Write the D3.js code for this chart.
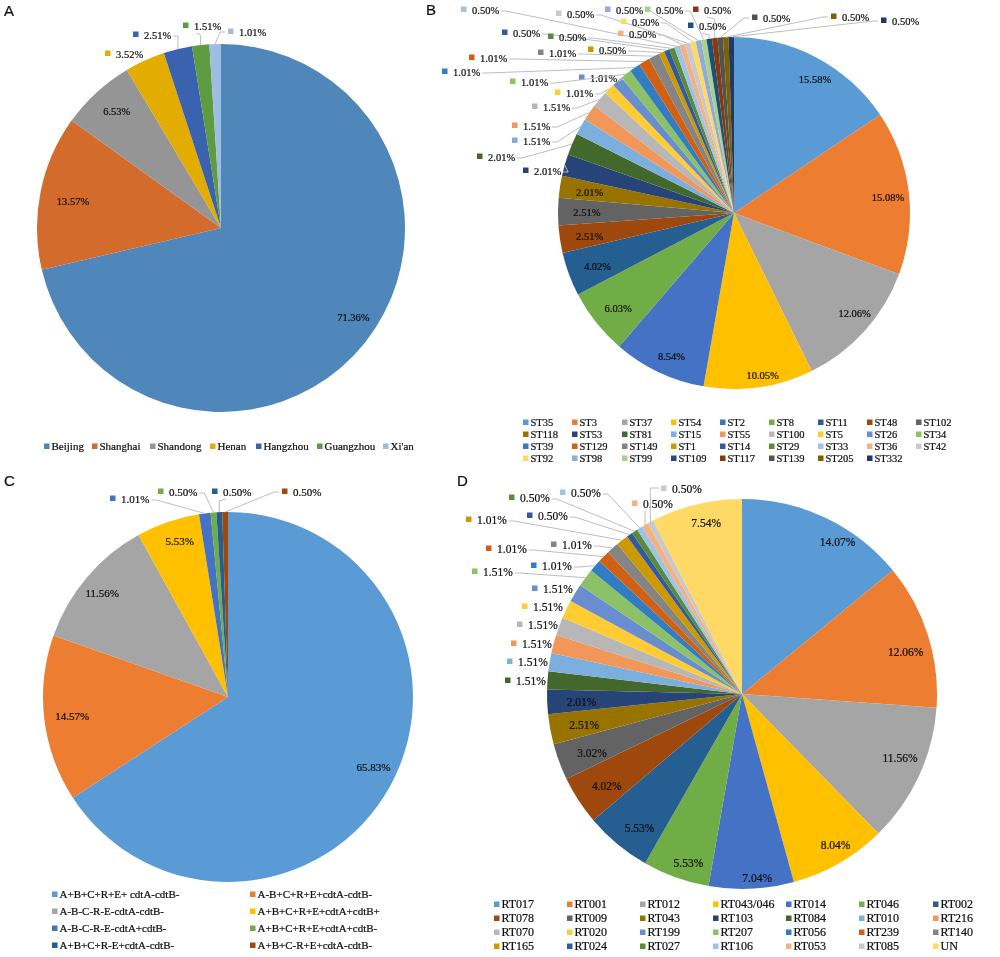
<!DOCTYPE html>
<html><head><meta charset="utf-8">
<script src="https://cdn.jsdelivr.net/npm/d3@7/dist/d3.min.js"></script>
<style>html,body{margin:0;padding:0;background:#fff}svg{display:block;filter:blur(0.35px)}text{font-family:"Liberation Serif",serif;fill:#111;stroke:#111;stroke-width:.22px}</style>
</head><body>
<svg id="c" width="1000" height="957"></svg>
<script>
// ---- data ----
const citiesA = ["Beijing","Shanghai","Shandong","Henan","Hangzhou","Guangzhou","Xi'an"];
const valuesA = [71.36,13.57,6.53,3.52,2.51,1.51,1.01];
const typesB = ["ST35","ST3","ST37","ST54","ST2","ST8","ST11","ST48","ST102","ST118","ST53","ST81","ST15","ST55","ST100","ST5","ST26","ST34","ST39","ST129","ST149","ST1","ST14","ST29","ST33","ST36","ST42","ST92","ST98","ST99","ST109","ST117","ST139","ST205","ST332"];
const valuesB = [15.58,15.08,12.06,10.05,8.54,6.03,4.02,2.51,2.51,2.01,2.01,2.01,1.51,1.51,1.51,1.01,1.01,1.01,1.01,1.01,1.01,0.50,0.50,0.50,0.50,0.50,0.50,0.50,0.50,0.50,0.50,0.50,0.50,0.50,0.50];
const profilesC = ["A+B+C+R+E+ cdtA-cdtB-","A-B+C+R+E+cdtA-cdtB-","A-B-C-R-E-cdtA-cdtB-","A+B+C+R+E+cdtA+cdtB+","A-B-C-R-E-cdtA+cdtB-","A+B+C+R+E+cdtA+cdtB-","A+B+C+R-E+cdtA-cdtB-","A+B+C-R+E+cdtA-cdtB-"];
const valuesC = [65.83,14.57,11.56,5.53,1.01,0.50,0.50,0.50];
const ribotypesD = ["RT017","RT001","RT012","RT043/046","RT014","RT046","RT002","RT078","RT009","RT043","RT103","RT084","RT010","RT216","RT070","RT020","RT199","RT207","RT056","RT239","RT140","RT165","RT024","RT027","RT106","RT053","RT085","UN"];
const valuesD = [14.07,12.06,11.56,8.04,7.04,5.53,5.53,4.02,3.02,2.51,2.01,1.51,1.51,1.51,1.51,1.51,1.51,1.51,1.01,1.01,1.01,1.01,0.50,0.50,0.50,0.50,0.50,7.54];

// ---- styles and layout ----
const palette = ["#5B9BD5","#ED7D31","#A5A5A5","#FFC000","#4472C4","#70AD47","#255E91","#9E480E","#636363","#997300","#264478","#43682B","#7CAFDD","#F1975A","#B7B7B7","#FFCD33","#698ED0","#8CC168","#327DC2","#D26012","#848484","#CC9A00","#335AA1","#5A8B39","#9DC3E6","#F4B183","#C9C9C9","#FFD966","#8FAADC","#A9D18E","#1F4E79","#843C0C","#525252","#7F6000","#203864"];
const paletteA = ["#4F87BA","#D36B2D","#959595","#E3AC00","#3B62AE","#5F9B41","#9DBDE3"];
// outside labels: slice index -> text start, text middle y, leader type
const outA = {3:[116,54,""],4:[144,35,"r"],5:[194,26,"u"],6:[239,32,"l"]};
const outB = {10:[534,171,"r"],11:[488,157,"r"],12:[523,141,"r"],13:[523,126,"r"],14:[543,107,"r"],15:[566,93,"r"],16:[590,78,"r"],17:[521,82,"r"],18:[453,72,"r"],19:[480,58,"r"],20:[549,53,"r"],21:[599,50,"r"],22:[513,33,"r"],23:[559,37,"r"],24:[472,10,"r"],25:[629,34,"r"],26:[567,14,"r"],27:[632,22,"r"],28:[616,10,"r"],29:[656,10,"r"],30:[699,26,"u"],31:[704,10,"u"],32:[763,18,"l"],33:[842,17,"l"],34:[892,21,"l"]};
const outC = {4:[121,499,"r"],5:[169,492,"r"],6:[223,492,"u"],7:[293,492,"l"]};
const outD = {11:[516,681,""],12:[518,662,""],13:[522,644,""],14:[528,625,""],15:[533,607,""],16:[543,589,""],17:[483,572,"r"],18:[542,566,"r"],19:[497,549,"r"],20:[562,545,"r"],21:[477,520,"r"],22:[538,516,"r"],23:[520,498,"r"],24:[571,493,"r"],25:[643,504,"u"],26:[672,489,"e"]};
// inside labels: small shift away from the slice's label point
const nudgeA = {0:[7,-10],1:[9,5],2:[4,1]};
const nudgeB = {0:[9,1],1:[2,2],2:[7,-2],3:[7,11],4:[3,5],5:[4,0],6:[7,0],7:[7,0],8:[6,1],9:[7,2]};
const nudgeC = {0:[4,-7],1:[4,0],2:[-3,0],3:[4,-4]};
const nudgeD = {0:[23,1],1:[2,9],2:[4,-7],3:[9,4],4:[7,15],5:[4,9],6:[6,4],7:[7,-1],8:[9,0],9:[9,0],10:[9,1],27:[4,-6]};

const panels = [
 {letter:"A",lx:4,ly:16,names:citiesA,vals:valuesA,colors:paletteA,cx:221,cy:228,r:184,out:outA,nudge:nudgeA,fs:10.5,
  legX:[44,92,150,210,256,317,383],legY:[446],legFs:11},
 {letter:"B",lx:426,ly:15,names:typesB,vals:valuesB,colors:palette,cx:734,cy:213,r:176,out:outB,nudge:nudgeB,fs:10.5,
  legX:[523,572,622,671,720,769,818,867,916],legY:[422,434,446,458],legFs:10.5},
 {letter:"C",lx:4,ly:486,names:profilesC,vals:valuesC,colors:palette,cx:228,cy:697,r:185,out:outC,nudge:nudgeC,fs:11,
  legX:[52,250],legY:[894,911,928,945],legFs:11},
 {letter:"D",lx:457,ly:486,names:ribotypesD,vals:valuesD,colors:palette,cx:742,cy:694,r:195,out:outD,nudge:nudgeD,fs:11.5,
  legX:[494,567,640,713,786,859,933],legY:[904,918,932,946],legFs:12}
];

const svg = d3.select("#c");
const pct = d3.format(".2f");
const pie = d3.pie().value(d=>d).sort(null).startAngle(0).endAngle(2*Math.PI);
const measure = (()=>{const c=document.createElement("canvas").getContext("2d");
  return (s,fs)=>{c.font=fs+'px "Liberation Serif"';return c.measureText(s).width;};})();

panels.forEach(p=>{
  const g = svg.append("g");
  g.append("text").text(p.letter).attr("x",p.lx).attr("y",p.ly)
    .style("font-family",'"Liberation Sans",sans-serif').style("font-size","15px");
  const arcs = pie(p.vals);
  const arc = d3.arc().innerRadius(0).outerRadius(p.r);
  const edge = d3.arc().innerRadius(p.r).outerRadius(p.r);
  const inner = d3.arc().innerRadius(p.r*0.87).outerRadius(p.r*0.87);
  const gp = g.append("g").attr("transform",`translate(${p.cx},${p.cy})`);
  gp.selectAll("path").data(arcs).join("path").attr("d",arc).attr("fill",(d,i)=>p.colors[i]);

  arcs.forEach((d,i)=>{
    const label = pct(d.data)+"%";
    const o = p.out[i];
    if(!o){
      const [x,y]=inner.centroid(d), [nx,ny]=p.nudge[i]||[0,0];
      gp.append("text").text(label).attr("x",x+nx).attr("y",y+ny).attr("dy","0.35em")
        .attr("text-anchor","middle").style("font-size",p.fs+"px");
      return;
    }
    const [tx,ty,mode]=o, w=measure(label,p.fs);
    const [ex,ey]=edge.centroid(d), X=ex+p.cx, Y=ey+p.cy;
    let pts=null;
    if(mode==="r") pts=[[tx+w+2,ty+1],[tx+w+7,ty+1],[X,Y]];
    if(mode==="l") pts=[[tx-14,ty],[tx-19,ty],[X,Y]];
    if(mode==="u") pts=[[tx+w*0.1,ty+7],[X,ty+9],[X,Y]];
    if(mode==="e") pts=[[tx-13,ty-1],[X,ty-1],[X,Y]];
    if(pts) g.append("path").attr("d",d3.line()(pts)).attr("fill","none").attr("stroke","#bdbdbd").attr("stroke-width",1);
    g.append("rect").attr("x",tx-11).attr("y",ty-3.5).attr("width",5.5).attr("height",5.5).attr("fill",p.colors[i]);
    g.append("text").text(label).attr("x",tx).attr("y",ty).attr("dy","0.35em").style("font-size",p.fs+"px");
  });

  p.names.forEach((n,i)=>{
    const cols=p.legX.length, col=i%cols, row=Math.floor(i/cols);
    const x=p.legX[col], y=p.legY[row];
    g.append("rect").attr("x",x).attr("y",y-2.5).attr("width",5.5).attr("height",5.5).attr("fill",p.colors[i]);
    g.append("text").text(n).attr("x",x+7.5).attr("y",y).attr("dy","0.35em").style("font-size",p.legFs+"px");
  });
});
</script>
</body></html>
